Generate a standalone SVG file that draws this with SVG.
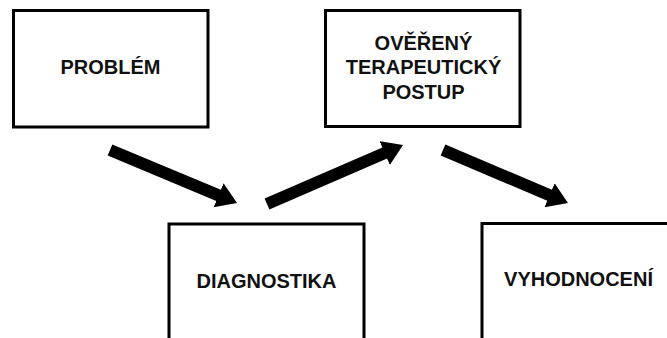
<svg xmlns="http://www.w3.org/2000/svg" width="667" height="338" viewBox="0 0 667 338">
  <style>
    .box { fill: #ffffff; stroke: #000000; stroke-width: 3; }
    .lbl { font-family: "Liberation Sans", Arial, sans-serif; font-weight: bold; font-size: 20px; fill: #111111; text-anchor: middle; }
    .arrow { stroke: #000000; stroke-width: 12; stroke-linecap: butt; fill: none; }
  </style>
  <defs>
    <marker id="head" markerUnits="userSpaceOnUse" markerWidth="22" markerHeight="28" refX="2" refY="13" orient="auto">
      <path d="M0,0 L20,13 L0,26 Z" fill="#000000"/>
    </marker>
  </defs>
  <rect width="667" height="338" fill="#ffffff"/>

  <g id="node-problem">
    <rect class="box" x="13.5" y="10.5" width="194.5" height="116.5"/>
    <text class="lbl" x="110.5" y="74">PROBLÉM</text>
  </g>

  <g id="node-postup">
    <rect class="box" x="325.5" y="10.5" width="194.5" height="116"/>
    <text class="lbl" x="423.5" y="49.5">OVĚŘENÝ</text>
    <text class="lbl" x="423.5" y="74">TERAPEUTICKÝ</text>
    <text class="lbl" x="423.5" y="98.5">POSTUP</text>
  </g>

  <g id="node-diagnostika">
    <rect class="box" x="169" y="224" width="195" height="116.5"/>
    <text class="lbl" x="266.5" y="288">DIAGNOSTIKA</text>
  </g>

  <g id="node-vyhodnoceni">
    <rect class="box" x="482" y="223.5" width="195" height="116.5"/>
    <text class="lbl" x="578.5" y="285.5">VYHODNOCENÍ</text>
  </g>

  <g id="connectors">
    <line class="arrow" x1="110" y1="150" x2="220.4" y2="196.1" marker-end="url(#head)"/>
    <line class="arrow" x1="267" y1="204" x2="386.5" y2="152.2" marker-end="url(#head)"/>
    <line class="arrow" x1="443" y1="150" x2="551.4" y2="196" marker-end="url(#head)"/>
  </g>
</svg>
